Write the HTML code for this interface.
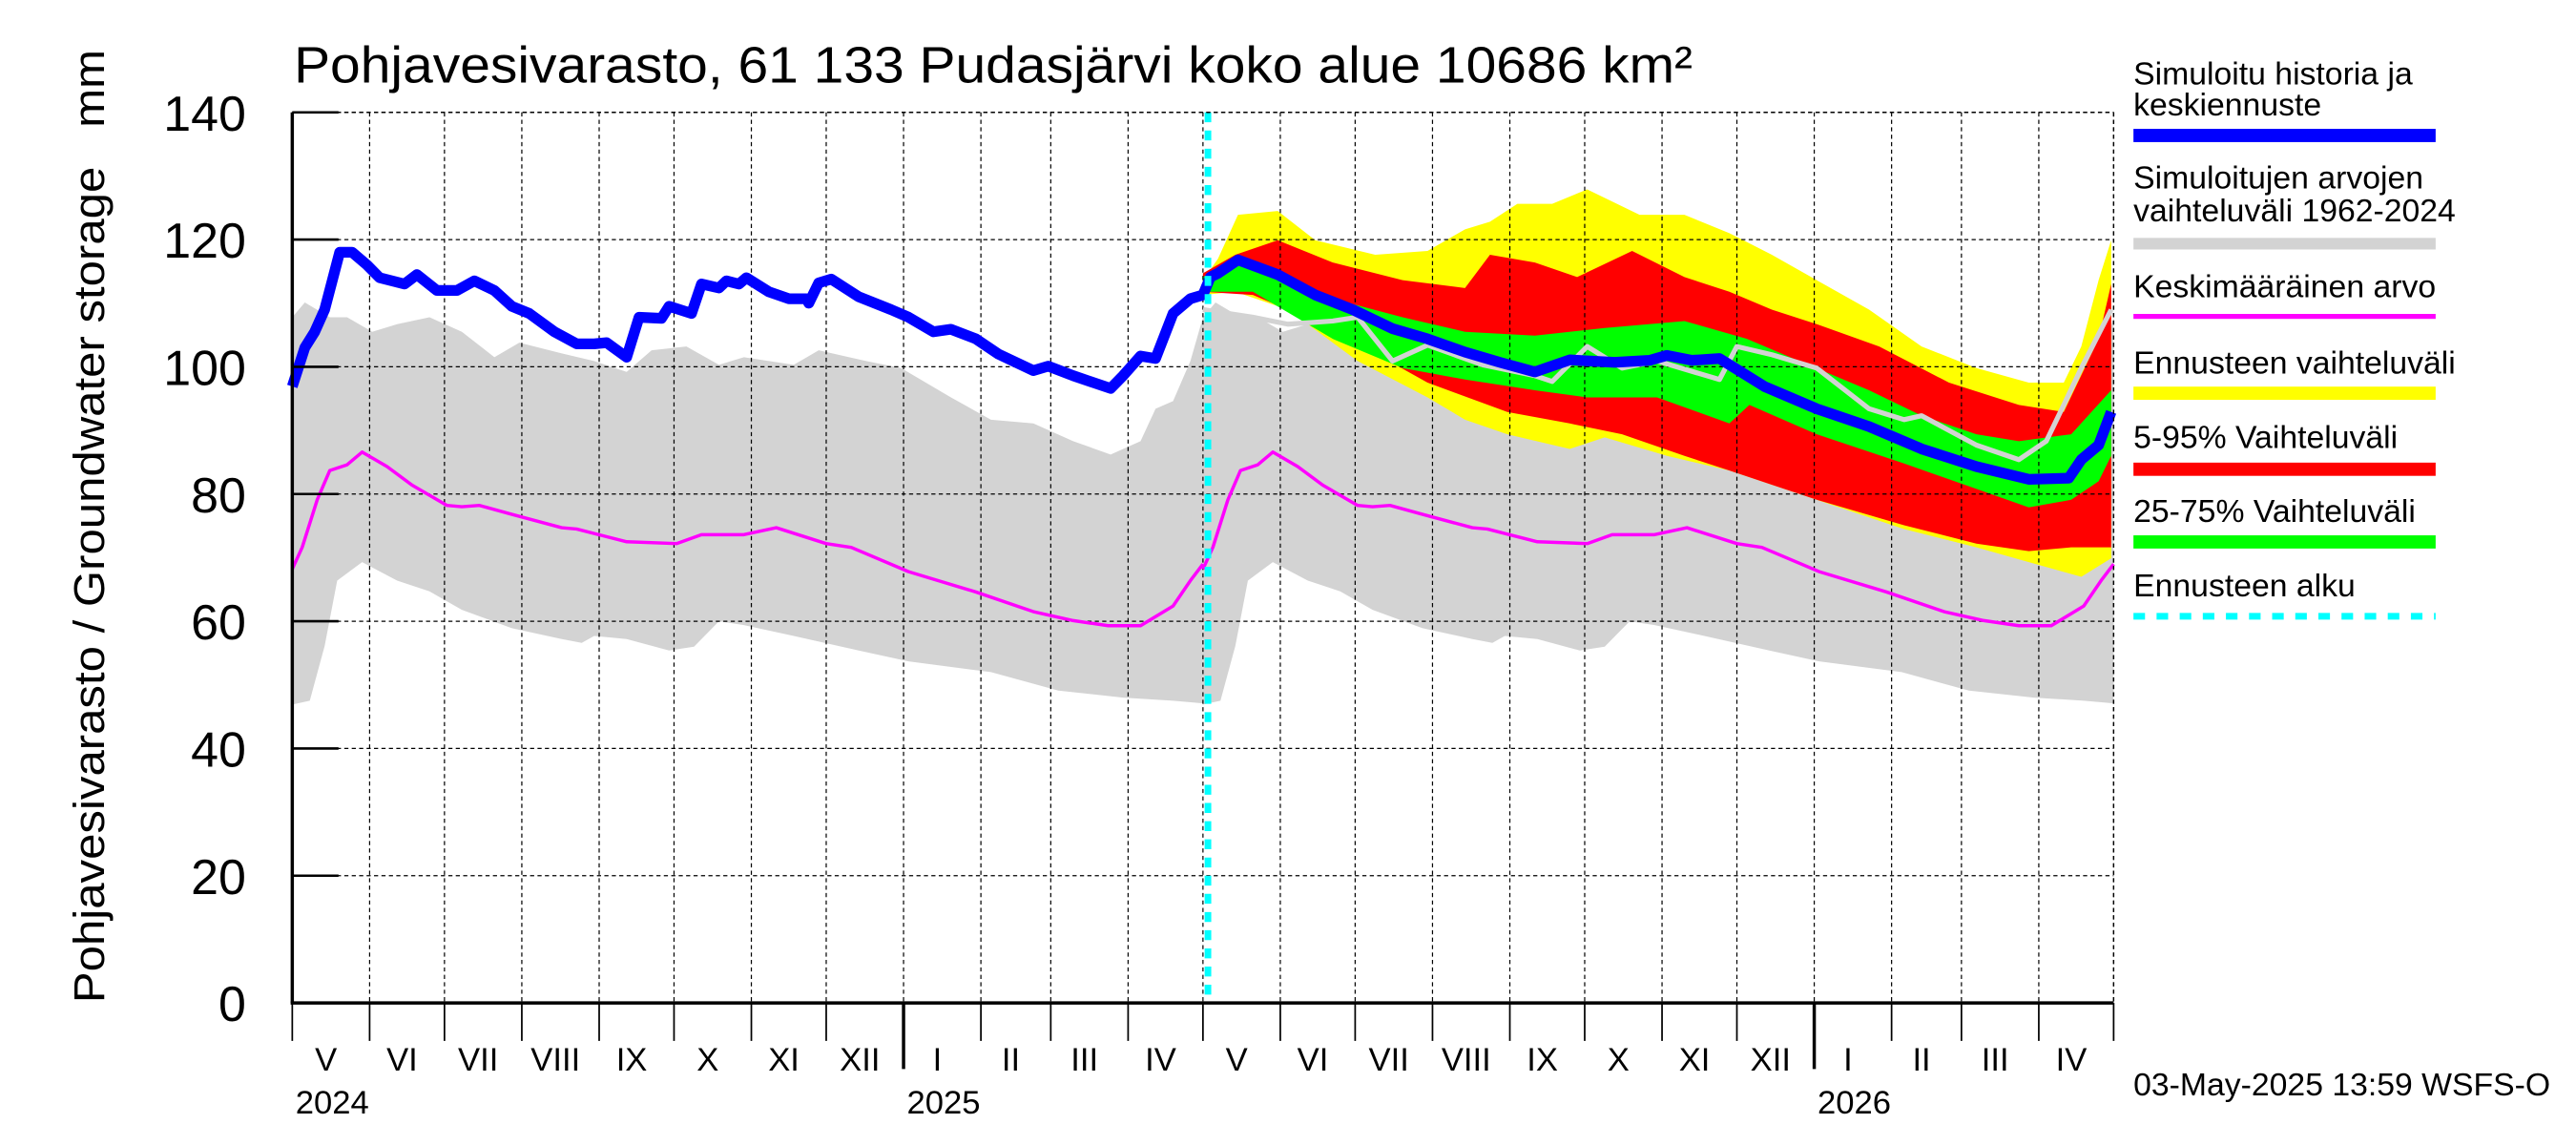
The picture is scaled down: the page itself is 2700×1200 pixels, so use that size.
<!DOCTYPE html>
<html><head><meta charset="utf-8">
<style>
html,body{margin:0;padding:0;background:#fff;}
svg{display:block;font-family:"Liberation Sans",sans-serif;}
</style></head>
<body>
<svg id="chart" width="2700" height="1200" viewBox="0 0 1560 693" preserveAspectRatio="none" xmlns="http://www.w3.org/2000/svg">
<rect x="0" y="0" width="1560" height="693" fill="#fff"/>
<g id="bands"></g>
<g id="grid"></g>
<g id="lines"></g>
<g id="axes"></g>
<text x="178" y="50" font-size="31" textLength="847" lengthAdjust="spacingAndGlyphs">Pohjavesivarasto, 61 133 Pudasjärvi koko alue 10686 km²</text>
<text transform="translate(63,607) rotate(-90)" font-size="26" xml:space="preserve" textLength="577" lengthAdjust="spacingAndGlyphs">Pohjavesivarasto / Groundwater storage   mm</text>
<g id="legend" font-size="19.5">
<text x="1292" y="51">Simuloitu historia ja</text>
<text x="1292" y="70">keskiennuste</text>
<rect x="1292" y="78" width="183" height="8" fill="#0000ff"/>
<text x="1292" y="114">Simuloitujen arvojen</text>
<text x="1292" y="134">vaihteluväli 1962-2024</text>
<rect x="1292" y="144" width="183" height="7" fill="#d3d3d3"/>
<text x="1292" y="180">Keskimääräinen arvo</text>
<rect x="1292" y="190" width="183" height="3" fill="#ff00ff"/>
<text x="1292" y="226">Ennusteen vaihteluväli</text>
<rect x="1292" y="234" width="183" height="8" fill="#ffff00"/>
<text x="1292" y="271">5-95% Vaihteluväli</text>
<rect x="1292" y="280" width="183" height="8" fill="#ff0000"/>
<text x="1292" y="316">25-75% Vaihteluväli</text>
<rect x="1292" y="324" width="183" height="8" fill="#00ff00"/>
<text x="1292" y="361">Ennusteen alku</text>
<line x1="1292" y1="373" x2="1475" y2="373" stroke="#00ffff" stroke-width="4" stroke-dasharray="7,7"/>
</g>
<text x="1292" y="663" font-size="19.5">03-May-2025 13:59 WSFS-O</text>
</svg>
<script>
// climatology (year-day, value) drawn for both years
const grayTopDays=[0,5,15,22,32,42,55,68,81,91,108,121,134,144,158,171,181,201,211,230,244,264,280,297,313,328,340,346,353,360,365];
const grayTopVals=[107.8,110.1,107.8,107.8,105.5,106.7,107.8,105.5,101.5,103.8,102.1,100.9,99.2,102.6,103.2,100.3,101.5,100.3,102.6,100.9,99.8,95.2,91.7,91.1,88.3,86.2,88.3,93.4,94.6,100.9,107.8];
const grayBotDays=[0,7,13,18,28,42,55,68,88,108,116,121,134,151,161,171,181,201,227,247,280,307,333,353,365];
const grayBotVals=[46.9,47.5,56.1,66.4,69.3,66.4,64.7,61.8,58.9,57.2,56.6,57.7,57.2,55.4,56,60,59.4,57.7,55.4,53.7,52,49.1,48,47.5,47.1];
const meanDays=[0,4,10,15,22,28,38,48,62,68,75,88,108,114,134,154,164,181,194,214,224,247,274,297,313,327,340,353,360,365];
const meanVals=[68.2,71.6,79.1,83.7,84.6,86.6,84.3,81.4,78.2,78,78.2,76.8,74.7,74.5,72.5,72.2,73.6,73.6,74.7,72.2,71.6,67.8,64.6,61.5,60.1,59.3,59.3,62.4,66.4,69];
// simulated history + median forecast (day from 1 May 2024)
const blueDays=[0,5,9,13,19,24,30,35,45,50,58,66,73,81,88,95,105,114,121,126,134,139,148,151,160,164,171,174,179,182,191,199,206,207,211,216,227,240,247,257,264,274,283,297,303,313,328,333,340,346,353,360,365,368,371,379,395,410,425,441,455,470,484,498,512,530,544,551,561,572,590,611,632,653,675,696,712,717,724,729];
const blueVals=[96.9,103,105.5,109,118,118,116,114,113,114.5,112,112,113.5,112,109.5,108.4,105.5,103.6,103.6,103.8,101.5,107.8,107.6,109.5,108.4,113,112.4,113.5,113,114,111.8,110.7,110.7,110,113.2,113.8,111,109,107.8,105.5,105.9,104.4,102,99.4,100.1,98.6,96.6,98.6,101.7,101.3,108.4,110.7,111.3,114.1,114.7,116.8,114.5,111.3,109,106,104.4,102.3,100.7,99.2,101.1,100.7,101,101.8,101,101.3,96.9,93.4,90.6,87.1,84.3,82.3,82.5,85.4,87.7,92.9];
// forecast bands
const yTopDays=[365,371,379,395,410,434,455,470,480,491,505,519,540,558,576,593,611,632,653,675,696,710,717,724,729];
const yTopVals=[113.6,117,123.9,124.5,119.9,117.6,118.2,121.6,122.8,125.6,125.6,127.9,123.9,123.9,121,117.6,113.6,109,103.2,99.8,97.5,97.5,103.2,113.6,119.9];
const yBotDays=[365,378,399,427,455,470,487,512,526,551,576,611,646,675,696,717,729];
const yBotVals=[111.3,111.8,109,100.9,95.2,91.7,89.4,87.1,88.9,86,83.7,79.1,74.5,71.6,69.3,67,69.9];
const rTopDays=[365,378,395,417,445,470,480,498,515,537,558,576,593,611,636,664,692,710,724,729];
const rTopVals=[114.7,117.6,119.9,116.4,113.6,112.4,117.6,116.4,114.1,118.2,114.1,111.8,109,106.7,103.2,97.5,94,92.9,104.4,113];
const rBotDays=[365,385,413,434,455,487,512,533,558,576,611,646,675,696,713,729];
const rBotVals=[111.8,111.3,106.7,102.1,97.5,92.9,91.1,89.4,86,83.7,79.1,75.1,72.2,71,71.6,71.6];
const gTopDays=[365,381,417,445,470,498,526,558,583,604,632,653,675,692,713,729];
const gTopVals=[114.1,117,110.7,107.8,105.5,104.9,106.1,107.2,104.4,100.9,96.3,92.3,89.4,88.3,89.4,96.3];
const gBotDays=[365,385,417,445,470,498,519,547,576,584,611,646,675,696,713,724,729];
const gBotVals=[111.8,111.8,104.4,99.8,98,96.3,95.2,95.2,91.1,94,89.4,84.8,80.8,77.9,79.1,82,86];
const medDays=[365,385,399,417,427,441,455,477,498,505,519,533,547,572,579,593,611,632,646,653,675,692,703,710,717,729];
const medVals=[109,107.8,106.7,107.2,107.8,100.9,103.4,100.3,98.6,97.7,103.2,99.8,100.9,98,103.2,101.9,99.8,93.4,91.7,92.3,87.7,85.4,88.3,94,99.8,109];
const yTicks=[0,20,40,60,80,100,120,140];
const monthLabels=["V","VI","VII","VIII","IX","X","XI","XII","I","II","III","IV","V","VI","VII","VIII","IX","X","XI","XII","I","II","III","IV"];
const monthLengths=[31,30,31,31,30,31,30,31,31,28,31,30,31,30,31,31,30,31,30,31,31,28,31,30];
const yearLabels=["2024","2025","2026"];
const forecastDay=367;

const X0=177,X1=1280,Y0=607,Y1=68,TOTAL=730;
const xs=d=>X0+(X1-X0)*d/TOTAL;
const ys=v=>Y0-(Y0-Y1)*v/140;
const NS="http://www.w3.org/2000/svg";
function mk(tag,parent){const e=document.createElementNS(NS,tag);document.getElementById(parent).appendChild(e);return e;}
function pts(days,vals,off){return days.map((d,i)=>xs(d+off).toFixed(1)+","+ys(vals[i]).toFixed(1));}
function band(td,tv,bd,bv,off,color,name){
  const p=mk("polygon","bands");
  p.setAttribute("points",pts(td,tv,off).concat(pts(bd,bv,off).reverse()).join(" "));
  p.setAttribute("fill",color);
  
  
}
band(grayTopDays,grayTopVals,grayBotDays,grayBotVals,0,"#d3d3d3","gray-range-2024");
band(grayTopDays,grayTopVals,grayBotDays,grayBotVals,365,"#d3d3d3","gray-range-2025");
band(yTopDays,yTopVals,yBotDays,yBotVals,0,"#ffff00","forecast-range-yellow");
band(rTopDays,rTopVals,rBotDays,rBotVals,0,"#ff0000","forecast-5-95-red");
band(gTopDays,gTopVals,gBotDays,gBotVals,0,"#00ff00","forecast-25-75-green");

// grid
let cum=0;
const monthStarts=[0];
monthLengths.forEach(l=>{cum+=l;monthStarts.push(cum);});
monthStarts.forEach((d,i)=>{
  if(i===0)return;
  const l=mk("line","grid");
  l.setAttribute("x1",xs(d));l.setAttribute("x2",xs(d));l.setAttribute("y1",Y1);l.setAttribute("y2",Y0);
  l.setAttribute("stroke","#000");l.setAttribute("stroke-width","0.7");l.setAttribute("stroke-dasharray","2.5,2");
  
  
});
yTicks.forEach(v=>{
  if(v===0)return;
  const l=mk("line","grid");
  l.setAttribute("x1",X0);l.setAttribute("x2",X1);l.setAttribute("y1",ys(v));l.setAttribute("y2",ys(v));
  l.setAttribute("stroke","#000");l.setAttribute("stroke-width","0.7");l.setAttribute("stroke-dasharray","2.5,2");
  
  
});

// lines
function line(days,vals,off,color,w,name){
  const p=mk("polyline","lines");
  p.setAttribute("points",pts(days,vals,off).join(" "));
  p.setAttribute("fill","none");p.setAttribute("stroke",color);p.setAttribute("stroke-width",w);
  p.setAttribute("stroke-linejoin","round");
  
  
}
line(meanDays,meanVals,0,"#ff00ff",2,"mean-line-2024");
line(meanDays,meanVals,365,"#ff00ff",2,"mean-line-2025");
line(medDays,medVals,0,"#d3d3d3",3,"forecast-gray-line");
line(blueDays,blueVals,0,"#0000ff",6.5,"simulated-line");
const fc=mk("line","lines");
fc.setAttribute("x1",xs(forecastDay));fc.setAttribute("x2",xs(forecastDay));fc.setAttribute("y1",Y1);fc.setAttribute("y2",Y0);
fc.setAttribute("stroke","#00ffff");fc.setAttribute("stroke-width","4");fc.setAttribute("stroke-dasharray","6,5");



// axes
function al(x1,y1,x2,y2,w,name,dash){const l=mk("line","axes");l.setAttribute("x1",x1);l.setAttribute("y1",y1);l.setAttribute("x2",x2);l.setAttribute("y2",y2);l.setAttribute("stroke","#000");l.setAttribute("stroke-width",w);if(dash)l.setAttribute("stroke-dasharray",dash);


return l;}
al(X0,Y1,X0,Y0,2,"y-axis");
al(X0-1,Y0,X1,Y0,2,"x-axis");
al(X0,Y1,X1,Y1,0.8,"plot-top-border","2.5,2");
al(X1,Y1,X1,Y0,0.8,"plot-right-border","2.5,2");
yTicks.forEach(v=>{
  al(X0,ys(v),X0+28,ys(v),1.5,"y-tick");
  const t=mk("text","axes");
  t.setAttribute("x",149);t.setAttribute("y",ys(v)+11);t.setAttribute("text-anchor","end");t.setAttribute("font-size","30");
  t.textContent=v;
  
  
});
monthStarts.forEach((d,i)=>{
  const isYear=(i===8||i===20);
  al(xs(d),Y0,xs(d),isYear?647:630,isYear?2:1,"month-tick");
  if(i<monthLabels.length){
    const t=mk("text","axes");
    t.setAttribute("x",(xs(d)+xs(monthStarts[i+1]))/2-3);t.setAttribute("y",648);
    t.setAttribute("text-anchor","middle");t.setAttribute("font-size","20");
    t.textContent=monthLabels[i];
    
    
  }
});
[0,8,20].forEach((mi,k)=>{
  const t=mk("text","axes");
  t.setAttribute("x",xs(monthStarts[mi])+2);t.setAttribute("y",674);t.setAttribute("font-size","20");
  t.textContent=yearLabels[k];
  
  
});
</script>
</body></html>
